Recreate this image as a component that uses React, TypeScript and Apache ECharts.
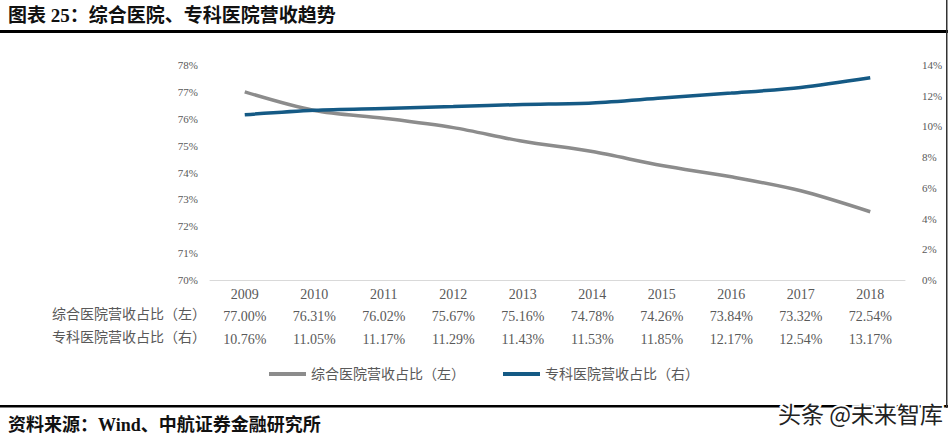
import React, { useEffect, useRef } from "react";
import * as echarts from "echarts";

const years = ["2009", "2010", "2011", "2012", "2013", "2014", "2015", "2016", "2017", "2018"];
const generalShare = [77.0, 76.31, 76.02, 75.67, 75.16, 74.78, 74.26, 73.84, 73.32, 72.54];
const specialShare = [10.76, 11.05, 11.17, 11.29, 11.43, 11.53, 11.85, 12.17, 12.54, 13.17];
const generalName = "综合医院营收占比（左）";
const specialName = "专科医院营收占比（右）";
const title = "图表 25：综合医院、专科医院营收趋势";
const source = "资料来源：Wind、中航证券金融研究所";
const watermark = "头条 @未来智库";

const serif = "'Liberation Serif', 'Noto Sans CJK SC', serif";
const labelColor = "#595959";

export default function App() {
  const ref = useRef<HTMLDivElement>(null);
  useEffect(() => {
    document.body.style.margin = "0";
    const chart = echarts.init(ref.current!, null, { renderer: "svg" });
    chart.setOption({
      animation: false,
      backgroundColor: "#ffffff",
      grid: { left: 210, right: 45, top: 65, bottom: 163 },
      legend: {
        top: 362,
        left: 264,
        itemGap: 38,
        itemWidth: 37,
        itemHeight: 4,
        icon: "rect",
        textStyle: { color: labelColor, fontSize: 14, fontFamily: serif },
        data: [generalName, specialName],
      },
      xAxis: {
        type: "category",
        data: years,
        axisLine: { lineStyle: { color: "#d9d9d9", width: 1 } },
        axisTick: { show: false },
        axisLabel: {
          color: labelColor,
          fontSize: 14,
          fontFamily: serif,
          lineHeight: 22.5,
          margin: 3,
          formatter: (v: string, i: number) =>
            `${v}\n${generalShare[i].toFixed(2)}%\n${specialShare[i].toFixed(2)}%`,
        },
      },
      yAxis: [
        {
          type: "value",
          min: 70,
          max: 78,
          interval: 1,
          splitLine: { show: false },
          axisLine: { show: false },
          axisTick: { show: false },
          axisLabel: { color: labelColor, fontSize: 11, fontFamily: serif, formatter: "{value}%", margin: 12 },
        },
        {
          type: "value",
          min: 0,
          max: 14,
          interval: 2,
          splitLine: { show: false },
          axisLine: { show: false },
          axisTick: { show: false },
          axisLabel: { color: labelColor, fontSize: 11, fontFamily: serif, formatter: "{value}%", margin: 17 },
        },
      ],
      series: [
        {
          name: generalName,
          type: "line",
          data: generalShare,
          yAxisIndex: 0,
          smooth: 0.3,
          symbol: "none",
          lineStyle: { color: "#8c8c8c", width: 3.5 },
          itemStyle: { color: "#8c8c8c" },
        },
        {
          name: specialName,
          type: "line",
          data: specialShare,
          yAxisIndex: 1,
          smooth: 0.3,
          symbol: "none",
          lineStyle: { color: "#155a85", width: 3.5 },
          itemStyle: { color: "#155a85" },
        },
      ],
      graphic: [
        {
          type: "text",
          x: 8,
          y: 15,
          style: {
            text: title,
            font: "bold 19px 'Liberation Serif', 'Noto Sans CJK SC', serif",
            fill: "#111",
            verticalAlign: "middle",
          },
        },
        { type: "rect", shape: { x: 0, y: 30, width: 948, height: 3 }, style: { fill: "#000" } },
        { type: "rect", shape: { x: 0, y: 405, width: 948, height: 2.5 }, style: { fill: "#000" } },
        { type: "rect", shape: { x: 946, y: 0, width: 1.5, height: 408 }, style: { fill: "#333" } },
        {
          type: "text",
          x: 206,
          y: 314,
          style: {
            text: generalName,
            font: "14px 'Liberation Serif', 'Noto Sans CJK SC', serif",
            fill: labelColor,
            align: "right",
            verticalAlign: "middle",
          },
        },
        {
          type: "text",
          x: 206,
          y: 337,
          style: {
            text: specialName,
            font: "14px 'Liberation Serif', 'Noto Sans CJK SC', serif",
            fill: labelColor,
            align: "right",
            verticalAlign: "middle",
          },
        },
        {
          type: "text",
          x: 8,
          y: 425,
          style: {
            text: source,
            font: "bold 18px 'Liberation Serif', 'Noto Sans CJK SC', serif",
            fill: "#111",
            verticalAlign: "middle",
          },
        },
        {
          type: "text",
          x: 943,
          y: 413,
          z: 10,
          style: {
            text: watermark,
            font: "23px 'Noto Sans CJK SC', sans-serif",
            fill: "#222",
            stroke: "#fff",
            lineWidth: 4,
            align: "right",
            verticalAlign: "middle",
          },
        },
      ],
    });
    return () => chart.dispose();
  }, []);
  return <div ref={ref} style={{ width: 950, height: 443 }} />;
}
